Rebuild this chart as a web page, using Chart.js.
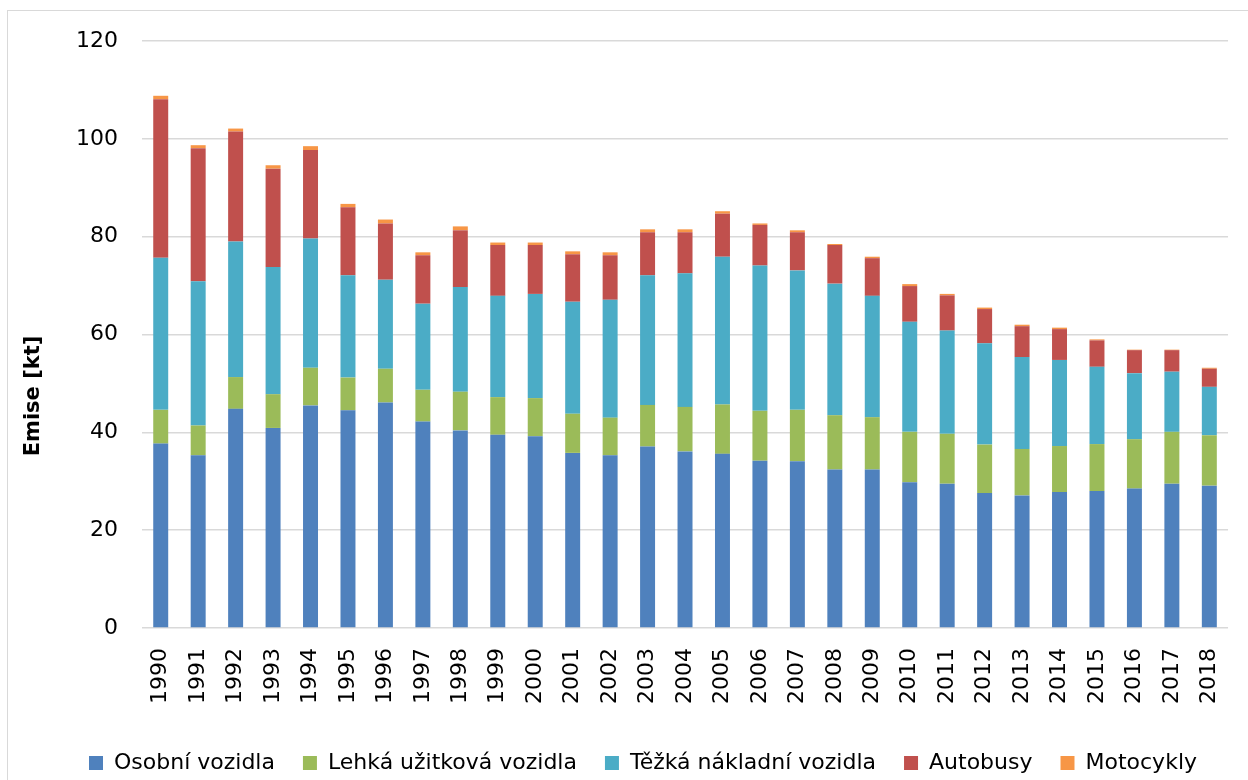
<!DOCTYPE html>
<html>
<head>
<meta charset="utf-8">
<script src="https://cdn.jsdelivr.net/npm/chart.js@4.4.1/dist/chart.umd.min.js"></script>
<style>
  html, body { margin: 0; padding: 0; background: #fff; overflow: hidden; width: 1248px; height: 780px; }
  #frame { position: absolute; left: 7px; top: 10px; width: 1300px; height: 800px; border: 1px solid #d9d9d9; }
  #emiseChart { position: absolute; left: 0; top: 0; }
</style>
</head>
<body>
<div id="frame"></div>
<canvas id="emiseChart" width="1248" height="785"></canvas>
<script>
const years = ["1990", "1991", "1992", "1993", "1994", "1995", "1996", "1997", "1998", "1999",
  "2000", "2001", "2002", "2003", "2004", "2005", "2006", "2007", "2008", "2009",
  "2010", "2011", "2012", "2013", "2014", "2015", "2016", "2017", "2018"];

const osobni = [37.7, 35.3, 44.8, 40.9, 45.5, 44.5, 46.1, 42.2, 40.4, 39.5,
  39.2, 35.8, 35.3, 37.1, 36.1, 35.6, 34.2, 34.1, 32.4, 32.4,
  29.8, 29.5, 27.6, 27.1, 27.8, 28.0, 28.5, 29.5, 29.1];
const lehka = [6.9, 6.1, 6.5, 6.9, 7.7, 6.7, 6.9, 6.5, 7.9, 7.7,
  7.8, 8.0, 7.7, 8.5, 9.1, 10.1, 10.2, 10.5, 11.1, 10.7,
  10.3, 10.2, 9.9, 9.5, 9.4, 9.6, 10.1, 10.6, 10.3];
const tezka = [31.1, 29.5, 27.7, 26.0, 26.4, 20.9, 18.2, 17.6, 21.4, 20.7,
  21.3, 22.9, 24.1, 26.5, 27.3, 30.2, 29.7, 28.5, 26.9, 24.8,
  22.5, 21.1, 20.7, 18.8, 17.6, 15.8, 13.5, 12.3, 9.9];
const autobusy = [32.4, 27.2, 22.5, 20.1, 18.1, 13.9, 11.5, 9.9, 11.6, 10.4,
  10.0, 9.7, 9.1, 8.8, 8.4, 8.8, 8.3, 7.8, 7.9, 7.7,
  7.3, 7.2, 7.0, 6.3, 6.3, 5.4, 4.7, 4.4, 3.7];
const motocykly = [0.7, 0.6, 0.6, 0.7, 0.8, 0.7, 0.8, 0.6, 0.8, 0.5,
  0.5, 0.6, 0.6, 0.6, 0.6, 0.5, 0.3, 0.4, 0.2, 0.3,
  0.4, 0.3, 0.3, 0.3, 0.3, 0.2, 0.1, 0.1, 0.2];

const yTicks = [0, 20, 40, 60, 80, 100, 120];
const yTitle = "Emise [kt]";

const fontFamily = "'DejaVu Sans', sans-serif";

// y axis title drawn by hand so it can sit lower than the plot centre, like the original
const yTitlePlugin = {
  id: "yTitle",
  afterDraw(chart) {
    const ctx = chart.ctx;
    ctx.save();
    ctx.translate(34, 396);
    ctx.rotate(-Math.PI / 2);
    ctx.font = "bold 21px " + fontFamily;
    ctx.fillStyle = "#000";
    ctx.textAlign = "center";
    ctx.textBaseline = "middle";
    ctx.fillText(yTitle, 0, 0);
    ctx.restore();
  },
};

function makeSet(label, data, color) {
  return {
    label: label,
    data: data,
    backgroundColor: color,
    borderWidth: 0,
    categoryPercentage: 1,
    barPercentage: 0.4,
  };
}

const ctx = document.getElementById("emiseChart").getContext("2d");
const emiseChart = new Chart(ctx, {
  type: "bar",
  data: {
    labels: years,
    datasets: [
      makeSet("Osobní vozidla", osobni, "#4F81BD"),
      makeSet("Lehká užitková vozidla", lehka, "#9BBB59"),
      makeSet("Těžká nákladní vozidla", tezka, "#4BACC6"),
      makeSet("Autobusy", autobusy, "#C0504D"),
      makeSet("Motocykly", motocykly, "#F79646"),
    ],
  },
  options: {
    responsive: false,
    animation: false,
    layout: {
      padding: { left: 54, right: 16, top: 41, bottom: 1 },
    },
    plugins: {
      legend: {
        position: "bottom",
        labels: {
          boxWidth: 14,
          boxHeight: 14,
          padding: 28,
          color: "#000",
          font: { family: fontFamily, size: 22 },
        },
      },
      tooltip: { enabled: false },
    },
    scales: {
      x: {
        stacked: true,
        grid: { display: false },
        border: { display: false },
        ticks: {
          color: "#000",
          font: { family: fontFamily, size: 22 },
          minRotation: 90,
          maxRotation: 90,
          padding: 12,
        },
        afterFit(scale) { scale.height = 96; },
      },
      y: {
        stacked: true,
        min: 0,
        max: 120,
        afterBuildTicks(scale) { scale.ticks = yTicks.map(v => ({ value: v })); },
        grid: { color: "#d9d9d9", lineWidth: 1.5, drawTicks: false },
        border: { display: false },
        ticks: {
          color: "#000",
          font: { family: fontFamily, size: 22 },
          padding: 24,
        },
        afterFit(scale) { scale.width = 88; },
      },
    },
  },
  plugins: [yTitlePlugin],
});
</script>
</body>
</html>
